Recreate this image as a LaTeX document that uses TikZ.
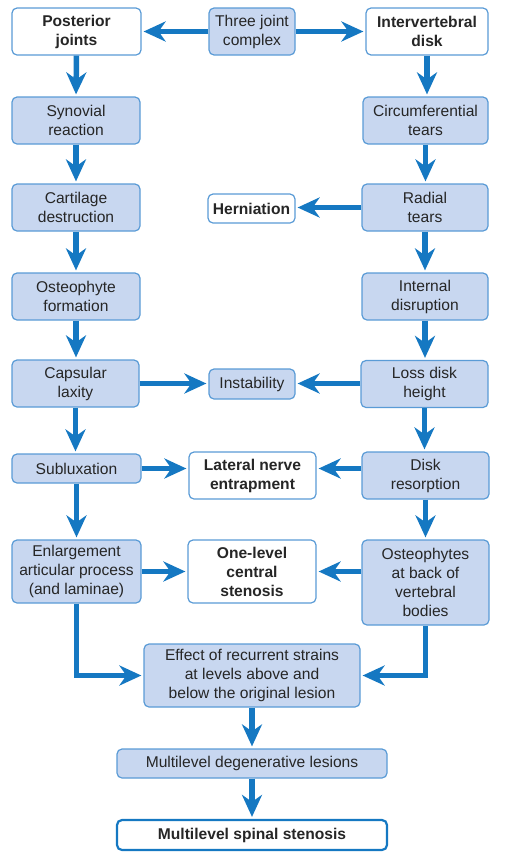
\documentclass[tikz,border=0pt]{standalone}
\usepackage{fontspec}
\setmainfont{Liberation Sans}
\usetikzlibrary{arrows.meta,positioning}
\definecolor{arrblue}{HTML}{1578C2}
\definecolor{boxfill}{HTML}{C8D7F0}
\definecolor{boxline}{HTML}{5A9BD6}
\definecolor{txt}{HTML}{262626}
\tikzset{
  bx/.style={draw=boxline, line width=1.2pt, rounded corners=5pt, align=center,
    inner sep=0pt, font=\fontsize{15.6}{19}\selectfont, text=txt},
  fbox/.style={bx, fill=boxfill},
  wbox/.style={bx, fill=white, font=\fontsize{15.6}{19}\selectfont\bfseries},
  arr/.style={draw=arrblue, line width=5.5pt,
    -{Stealth[length=22pt,width=20pt,inset=7pt]}, shorten >=2pt},
}
\begin{document}
\begin{tikzpicture}[x=1pt,y=-1pt]
\useasboundingbox (0,0) rectangle (504,860);
\node[wbox, minimum width=129pt, minimum height=47pt] (pj) at (76.5,31.5) {Posterior\\joints};
\node[fbox, minimum width=86pt, minimum height=47pt] (tjc) at (252,31.5) {Three joint\\complex};
\node[wbox, minimum width=122pt, minimum height=47pt] (ivd) at (427,31.5) {Intervertebral\\disk};
\node[fbox, minimum width=128pt, minimum height=47pt] (sr) at (76,120.5) {Synovial\\reaction};
\node[fbox, minimum width=125pt, minimum height=47pt] (ct) at (425.5,120.5) {Circumferential\\tears};
\node[fbox, minimum width=128pt, minimum height=47pt] (cd) at (76,207.5) {Cartilage\\destruction};
\node[wbox, minimum width=87pt, minimum height=29pt] (hern) at (251.5,208.5) {Herniation};
\node[fbox, minimum width=126pt, minimum height=47pt] (rt) at (425,207.5) {Radial\\tears};
\node[fbox, minimum width=128pt, minimum height=47pt] (of) at (76,296.5) {Osteophyte\\formation};
\node[fbox, minimum width=126pt, minimum height=47pt] (id) at (425,296.5) {Internal\\disruption};
\node[fbox, minimum width=127pt, minimum height=47pt] (cl) at (75.5,383.5) {Capsular\\laxity};
\node[fbox, minimum width=86pt, minimum height=30pt] (inst) at (252,384) {Instability};
\node[fbox, minimum width=127pt, minimum height=47pt] (ldh) at (424.5,384) {Loss disk\\height};
\node[fbox, minimum width=129pt, minimum height=29pt] (sub) at (76.5,468.5) {Subluxation};
\node[wbox, minimum width=127pt, minimum height=47pt] (lne) at (252.5,475.5) {Lateral nerve\\entrapment};
\node[fbox, minimum width=127pt, minimum height=47pt] (dr) at (425.5,475.5) {Disk\\resorption};
\node[fbox, minimum width=129pt, minimum height=63pt] (eap) at (76.5,571.5) {Enlargement\\articular process\\(and laminae)};
\node[wbox, minimum width=128pt, minimum height=63pt] (olcs) at (252,571.5) {One-level\\central\\stenosis};
\node[fbox, minimum width=127pt, minimum height=85pt] (obv) at (425.5,582.5) {Osteophytes\\at back of\\vertebral\\bodies};
\node[fbox, minimum width=216pt, minimum height=63pt] (eff) at (252,675.5) {Effect of recurrent strains\\at levels above and\\below the original lesion};
\node[fbox, minimum width=270pt, minimum height=29pt] (mdl) at (252,763.5) {Multilevel degenerative lesions};
\node[wbox, draw=arrblue, line width=2.2pt, minimum width=270pt, minimum height=30pt] (mss) at (252,835) {Multilevel spinal stenosis};
\draw[arr] (tjc.west) -- (pj.east);
\draw[arr] (tjc.east) -- (ivd.west);
\draw[arr] (pj.south) -- (sr.north);
\draw[arr] (sr.south) -- (cd.north);
\draw[arr] (cd.south) -- (of.north);
\draw[arr] (of.south) -- (cl.north -| of.south);
\draw[arr] (cl.south) -- (sub.north -| cl.south);
\draw[arr] (sub.south) -- (eap.north -| sub.south);
\draw[arr] (ivd.south) -- (ct.north -| ivd.south);
\draw[arr] (ct.south) -- (rt.north -| ct.south);
\draw[arr] (rt.south) -- (id.north -| rt.south);
\draw[arr] (id.south) -- (ldh.north -| id.south);
\draw[arr] (ldh.south) -- (dr.north -| ldh.south);
\draw[arr] (dr.south) -- (obv.north -| dr.south);
\draw[arr] (rt.west) -- (hern.east |- rt.west);
\draw[arr] (cl.east) -- (inst.west |- cl.east);
\draw[arr] (ldh.west |- cl.east) -- (inst.east |- cl.east);
\draw[arr] (sub.east) -- (lne.west |- sub.east);
\draw[arr] (dr.west |- sub.east) -- (lne.east |- sub.east);
\draw[arr] (eap.east) -- (olcs.west |- eap.east);
\draw[arr] (obv.west |- eap.east) -- (olcs.east |- eap.east);
\draw[arr] (eap.south) |- (eff.west);
\draw[arr] (obv.south) |- (eff.east);
\draw[arr] (eff.south) -- (mdl.north);
\draw[arr] (mdl.south) -- (mss.north);
\end{tikzpicture}
\end{document}
